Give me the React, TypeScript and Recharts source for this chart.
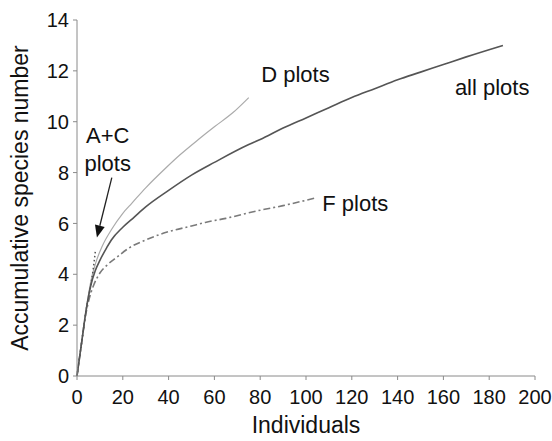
import { LineChart, Line, XAxis, YAxis, ReferenceLine, ReferenceDot, Label } from 'recharts';

// rarefaction curves
const allX = [0, 2, 4, 6, 8, 10, 13, 15, 20, 25, 30, 40, 50, 60, 75, 80, 90, 100, 110, 120, 130, 140, 150, 160, 170, 186];
const allY = [0, 1.3, 2.6, 3.55, 4.15, 4.55, 5.05, 5.35, 5.85, 6.25, 6.65, 7.3, 7.9, 8.4, 9.1, 9.3, 9.75, 10.15, 10.55, 10.95, 11.3, 11.65, 11.95, 12.25, 12.55, 13.0];

const dX = [0, 2, 4, 6, 8, 11, 15, 20, 24, 30, 39, 45, 53, 60, 68, 75];
const dY = [0, 1.3, 2.6, 3.7, 4.4, 5.1, 5.75, 6.4, 6.8, 7.4, 8.2, 8.7, 9.3, 9.8, 10.35, 10.95];

const fX = [0, 2, 4, 6, 7.4, 10, 13, 17.4, 23, 30, 39, 50, 56, 65, 79, 90, 104];
const fY = [0, 1.3, 2.5, 3.25, 3.6, 4.05, 4.35, 4.67, 5.05, 5.35, 5.65, 5.9, 6.04, 6.2, 6.5, 6.7, 7.0];

const acX = [0, 2, 4, 6, 7, 8];
const acY = [0, 1.3, 2.6, 3.55, 4.15, 4.9];

const xTicks = [0, 20, 40, 60, 80, 100, 120, 140, 160, 180, 200];
const yTicks = [0, 2, 4, 6, 8, 10, 12, 14];

const toRows = (xs: number[], ys: number[]) => xs.map((x, i) => ({ x, y: ys[i] }));

const allData = toRows(allX, allY);
const dData = toRows(dX, dY);
const fData = toRows(fX, fY);
const acData = toRows(acX, acY);

const FONT = '"Liberation Sans", Arial, sans-serif';
const AXIS = '#8a8a8a';

const note = (text: string, size = 22) => (props: any) => (
  <text
    x={props.cx}
    y={props.cy}
    textAnchor="middle"
    dominantBaseline="central"
    fontFamily={FONT}
    fontSize={size}
    fill="#111"
  >
    {text}
  </text>
);

const arrow = (props: any) => {
  const { x1, y1, x2, y2 } = props;
  const ang = Math.atan2(y2 - y1, x2 - x1);
  const len = 12;
  const w = 5;
  const bx = x2 - len * Math.cos(ang);
  const by = y2 - len * Math.sin(ang);
  const px = -Math.sin(ang) * w;
  const py = Math.cos(ang) * w;
  return (
    <g>
      <line x1={x1} y1={y1} x2={bx} y2={by} stroke="#222" strokeWidth={1.3} />
      <polygon points={`${x2},${y2} ${bx + px},${by + py} ${bx - px},${by - py}`} fill="#111" />
    </g>
  );
};

export default function App() {
  return (
    <div style={{ position: 'absolute', left: 0, top: 0, background: '#fff' }}>
      <LineChart width={552} height={441} margin={{ top: 20, right: 17, bottom: 0, left: 0 }}>
        <XAxis
          dataKey="x"
          type="number"
          domain={[0, 200]}
          ticks={xTicks}
          height={65}
          stroke={AXIS}
          tickSize={4}
          tickMargin={10}
          tick={{ fill: '#111', fontSize: 20, fontFamily: FONT }}
          allowDuplicatedCategory={false}
        >
          <Label value="Individuals" position="insideBottom" offset={8} fill="#111" fontSize={23} fontFamily={FONT} />
        </XAxis>
        <YAxis
          dataKey="y"
          type="number"
          domain={[0, 14]}
          ticks={yTicks}
          width={77}
          stroke={AXIS}
          tickSize={4}
          tickMargin={4}
          tick={{ fill: '#111', fontSize: 20, fontFamily: FONT }}
        >
          <Label
            value="Accumulative species number"
            angle={-90}
            position="insideLeft"
            offset={20}
            style={{ textAnchor: 'middle' }}
            fill="#111"
            fontSize={23}
            fontFamily={FONT}
          />
        </YAxis>

        <Line data={dData} dataKey="y" type="monotone" stroke="#ababab" strokeWidth={1.2} dot={false} isAnimationActive={false} />
        <Line data={fData} dataKey="y" type="monotone" stroke="#7a7a7a" strokeWidth={1.6} strokeDasharray="7 3 2 3" dot={false} isAnimationActive={false} />
        <Line data={allData} dataKey="y" type="monotone" stroke="#555" strokeWidth={1.6} dot={false} isAnimationActive={false} />
        <Line data={acData} dataKey="y" type="monotone" stroke="#555" strokeWidth={1.5} strokeDasharray="1.5 2.5" dot={false} isAnimationActive={false} />

        <ReferenceLine segment={[{ x: 15.2, y: 7.8 }, { x: 8.7, y: 5.45 }]} shape={arrow} />

        <ReferenceDot x={13.4} y={9.45} r={0} shape={note('A+C')} />
        <ReferenceDot x={13.4} y={8.35} r={0} shape={note('plots')} />
        <ReferenceDot x={95.4} y={11.84} r={0} shape={note('D plots')} />
        <ReferenceDot x={181.3} y={11.33} r={0} shape={note('all plots')} />
        <ReferenceDot x={121.5} y={6.78} r={0} shape={note('F plots')} />
      </LineChart>
    </div>
  );
}
